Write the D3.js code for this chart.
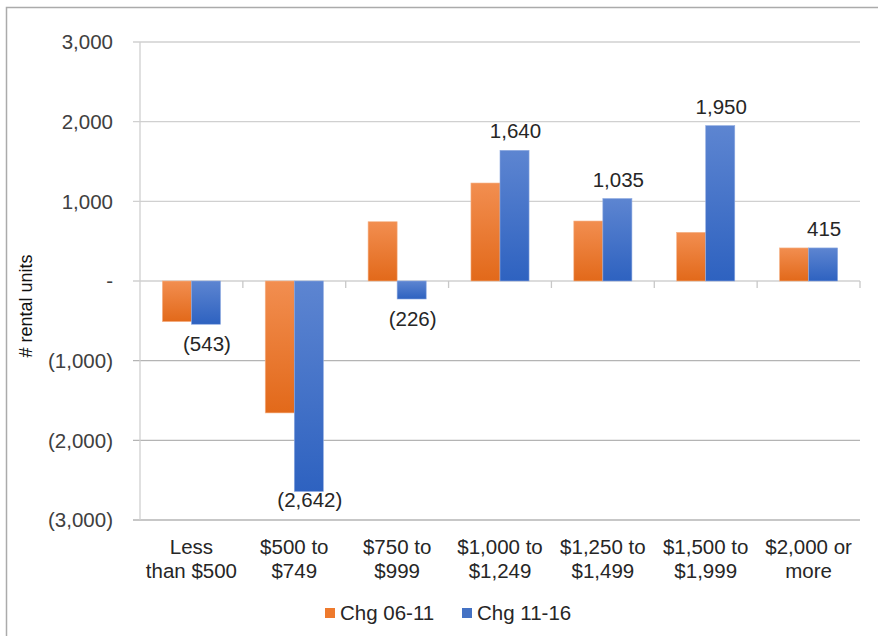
<!DOCTYPE html>
<html>
<head>
<meta charset="utf-8">
<script src="https://cdn.jsdelivr.net/npm/d3@7"></script>
<style>
  html, body { margin: 0; padding: 0; background: #fff; }
  svg { display: block; font-family: "Liberation Sans", Arial, sans-serif; }
</style>
</head>
<body>
<svg id="chart" width="878" height="636"></svg>
<script>
const categories = [
  ["Less", "than $500"],
  ["$500 to", "$749"],
  ["$750 to", "$999"],
  ["$1,000 to", "$1,249"],
  ["$1,250 to", "$1,499"],
  ["$1,500 to", "$1,999"],
  ["$2,000 or", "more"]
];
const seriesNames = ["Chg 06-11", "Chg 11-16"];
const chg0611 = [-510, -1656, 744, 1230, 753, 611, 415];
const chg1116 = [-543, -2642, -226, 1640, 1035, 1950, 415];
const yTicks = [-3000, -2000, -1000, 0, 1000, 2000, 3000];
const yTickLabels = ["(3,000)", "(2,000)", "(1,000)", "-", "1,000", "2,000", "3,000"];
const axisTitle = "# rental units";

const seriesValues = [chg0611, chg1116];
const colors = [
  { top: "#F28E50", bottom: "#E2691A", stroke: "#F6B48A" },
  { top: "#5D85D1", bottom: "#2E62C0", stroke: "#8DA9E0" }
];

const svg = d3.select("#chart");
const W = 878, H = 636;
const plot = { left: 140, right: 860, top: 42, bottom: 520 };

// outer border
svg.append("rect")
  .attr("x", 6.5).attr("y", 7.5)
  .attr("width", W + 10).attr("height", H + 10)
  .attr("fill", "none").attr("stroke", "#ababab").attr("stroke-width", 1.5);

// gradients
const defs = svg.append("defs");
colors.forEach((c, i) => {
  const g = defs.append("linearGradient").attr("id", "grad" + i)
    .attr("x1", 0).attr("y1", 0).attr("x2", 0).attr("y2", 1);
  g.append("stop").attr("offset", "0%").attr("stop-color", c.top);
  g.append("stop").attr("offset", "100%").attr("stop-color", c.bottom);
});

const catKeys = categories.map((d, i) => i);
const x0 = d3.scaleBand().domain(catKeys).range([plot.left, plot.right]).paddingInner(0).paddingOuter(0);
const x1 = d3.scaleBand().domain(d3.range(seriesNames.length)).range([0, x0.bandwidth()])
  .paddingInner(0).paddingOuter(0.77);
const y = d3.scaleLinear().domain([-3000, 3000]).range([plot.bottom, plot.top]);

// gridlines with short left ticks
const grid = svg.append("g");
yTicks.forEach(t => {
  grid.append("line")
    .attr("x1", plot.left - 7).attr("x2", plot.right)
    .attr("y1", y(t)).attr("y2", y(t))
    .attr("stroke", t < 0 ? "#b4b4b4" : "#d0d0d0").attr("stroke-width", 1.3);
});

// y axis line
svg.append("line")
  .attr("x1", plot.left).attr("x2", plot.left)
  .attr("y1", plot.top).attr("y2", plot.bottom)
  .attr("stroke", "#d0d0d0").attr("stroke-width", 1.3);

// y tick labels
svg.append("g").selectAll("text").data(yTicks).join("text")
  .attr("x", 113).attr("y", d => y(d))
  .attr("dy", "0.35em")
  .attr("text-anchor", "end")
  .attr("font-size", 20.5)
  .attr("fill", "#404040")
  .text((d, i) => yTickLabels[i]);

// axis title
svg.append("text")
  .attr("transform", "translate(32,306) rotate(-90)")
  .attr("text-anchor", "middle")
  .attr("font-size", 18)
  .attr("fill", "#111")
  .text(axisTitle);

// category tick marks on the zero line
svg.append("g").selectAll("line").data(d3.range(1, categories.length + 1)).join("line")
  .attr("x1", i => plot.left + i * x0.step()).attr("x2", i => plot.left + i * x0.step())
  .attr("y1", y(0)).attr("y2", y(0) + 7)
  .attr("stroke", "#c8c8c8").attr("stroke-width", 1.3);

// bars
seriesValues.forEach((vals, si) => {
  svg.append("g").selectAll("rect").data(vals).join("rect")
    .attr("x", (d, i) => x0(i) + x1(si))
    .attr("width", x1.bandwidth())
    .attr("y", d => y(Math.max(0, d)))
    .attr("height", d => Math.abs(y(d) - y(0)))
    .attr("fill", "url(#grad" + si + ")")
    .attr("stroke", colors[si].stroke).attr("stroke-width", 0.6);
});

// data labels for second series
const fmt = d3.format(",");
svg.append("g").selectAll("text").data(chg1116).join("text")
  .attr("x", (d, i) => x0(i) + x1(1) + x1.bandwidth() / 2 + 1)
  .attr("y", d => d >= 0 ? y(d) - 12 : Math.min(y(d) + 27, plot.bottom - 13))
  .attr("text-anchor", "middle")
  .attr("font-size", 20.5)
  .attr("fill", "#262626")
  .text(d => d >= 0 ? fmt(d) : "(" + fmt(-d) + ")");

// category labels
const catG = svg.append("g");
categories.forEach((lines, i) => {
  const t = catG.append("text")
    .attr("text-anchor", "middle")
    .attr("font-size", 20.5)
    .attr("fill", "#262626");
  lines.forEach((ln, k) => {
    t.append("tspan").attr("x", x0(i) + x0.bandwidth() / 2).attr("y", 554 + k * 24).text(ln);
  });
});

// legend
const legendX = [325, 462];
seriesNames.forEach((name, si) => {
  svg.append("rect")
    .attr("x", legendX[si]).attr("y", 608)
    .attr("width", 10).attr("height", 10)
    .attr("fill", si === 0 ? "#EE7A2D" : "#4472C4");
  svg.append("text")
    .attr("x", legendX[si] + 15).attr("y", 620)
    .attr("font-size", 20.5)
    .attr("fill", "#262626")
    .text(name);
});
</script>
</body>
</html>
